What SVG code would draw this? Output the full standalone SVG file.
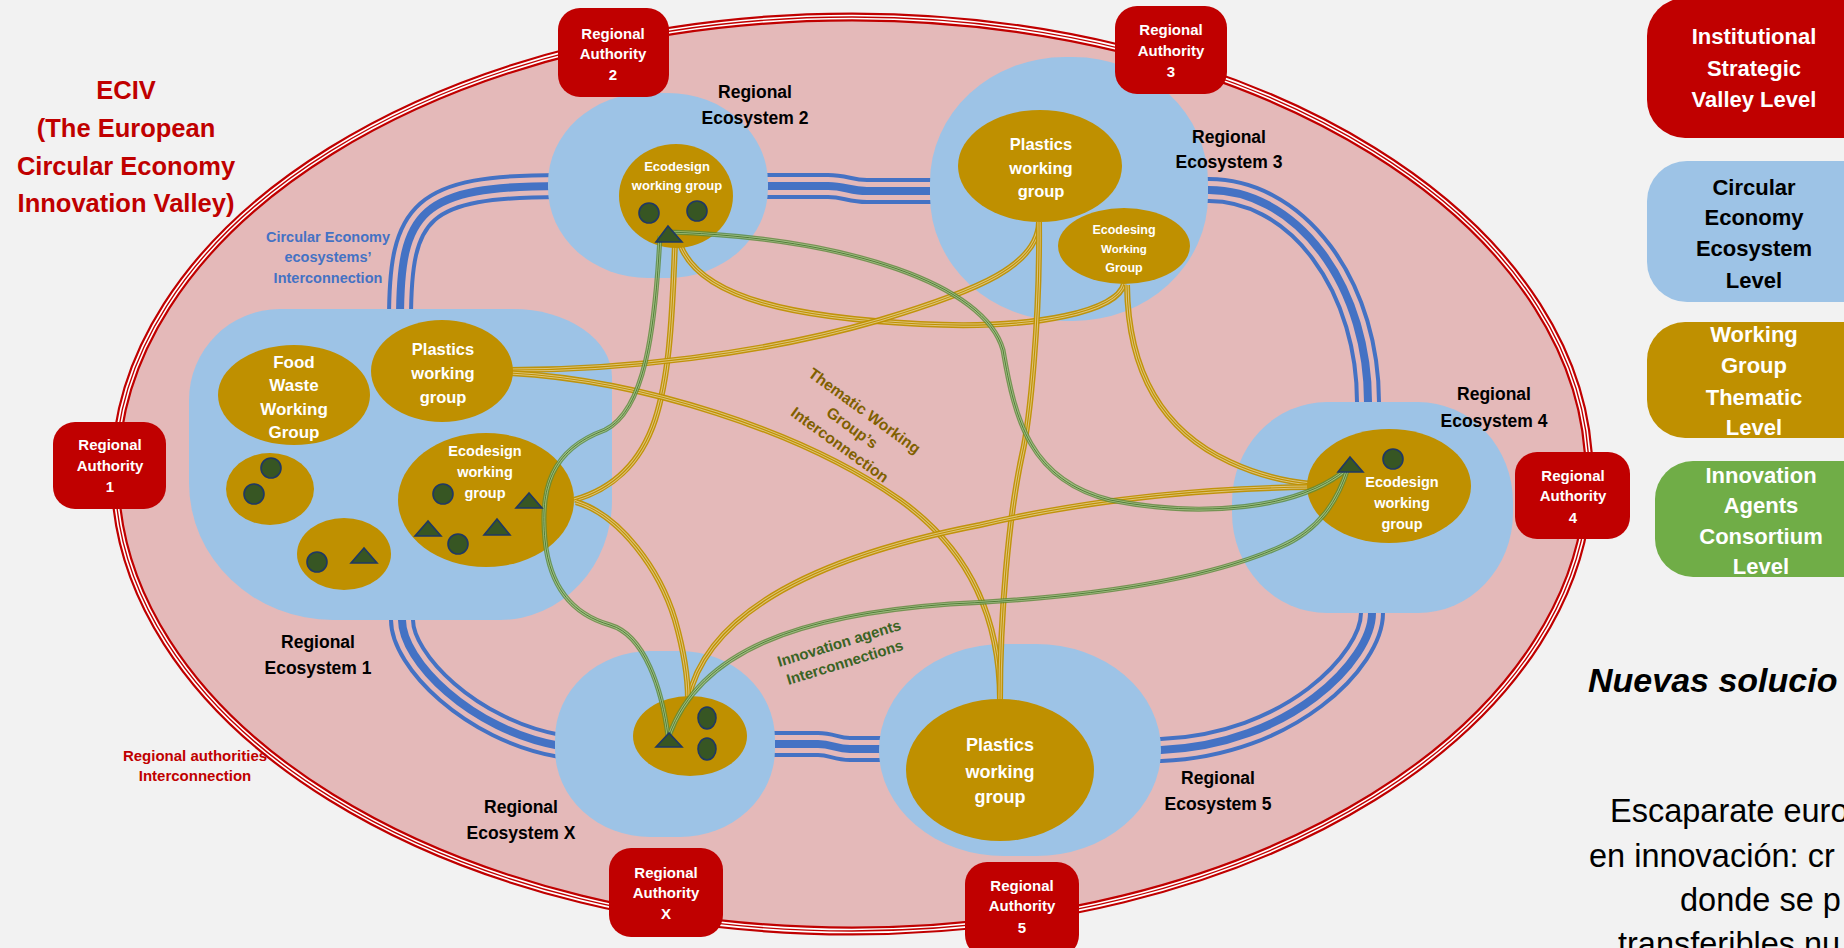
<svg xmlns="http://www.w3.org/2000/svg" xmlns:xlink="http://www.w3.org/1999/xlink" width="1844" height="948" viewBox="0 0 1844 948">
<style>
text{font-family:"Liberation Sans",Arial,sans-serif;font-weight:bold;text-anchor:middle}
.ra rect{fill:#C00000}
.ra text{fill:#fff;font-size:15px}
.eco{fill:#9DC3E6}
.lab{fill:#000;font-size:17.5px}
.wg{fill:#BF9000}
.wt{fill:#fff}
.ag{fill:#375623;stroke:#1F3864;stroke-width:1.6}
.pA{fill:none;stroke:#4472C4;stroke-width:26}
.pB{fill:none;stroke:#E4B9B9;stroke-width:18}
.pC{fill:none;stroke:#4472C4;stroke-width:8}
.tA{fill:none;stroke:#BF9000;stroke-width:6;opacity:.95}
.tB{fill:none;stroke:#fff;stroke-width:3.2;opacity:.45}
.tC{fill:none;stroke:#BF9000;stroke-width:1.1}
.gA{fill:none;stroke:#5A8A3A;stroke-width:5;opacity:.8}
.gB{fill:none;stroke:#B5D39A;stroke-width:2.6;opacity:.7}
.gC{fill:none;stroke:#4A7530;stroke-width:.9}
.leg{font-size:22px}
.es{font-family:"Liberation Sans",Arial,sans-serif;font-weight:normal;text-anchor:start;font-size:32.5px;fill:#000}
</style>
<defs>
<path id="p1" d="M 400,330 L 400,320 C 400,210 420,186 560,186"/>
<path id="p2" d="M 755,186 L 828,186 C 845,186 850,191 867,191 L 945,191"/>
<path id="p3" d="M 1195,190 L 1209,190 A 159 212 0 0 1 1368 402 L 1368 415"/>
<path id="p4" d="M 1372,600 L 1372,613 C 1372,660 1290,745 1161,750 L 1150,750"/>
<path id="p5" d="M 760,744 L 818,744 C 832,744 836,749 850,749 L 895,749"/>
<path id="p6" d="M 402,605 L 402,620 C 402,660 470,730 560,746 L 575,748"/>
<path id="g1" d="M 675,242 C 672,330 668,380 655,420 C 640,465 610,490 574,500"/>
<path id="g2" d="M 680,244 C 700,300 800,318 920,324 C 1040,330 1118,310 1124,284"/>
<path id="g3" d="M 510,370 C 620,370 760,355 880,320 C 980,290 1038,265 1039,222"/>
<path id="g4" d="M 510,373 C 640,380 800,430 900,500 C 970,550 1000,620 1000,700"/>
<path id="g5" d="M 1039,222 C 1040,320 1030,420 1022,455 C 1008,520 1000,620 1000,700"/>
<path id="g6" d="M 1127,285 C 1128,370 1160,430 1230,462 C 1260,476 1290,482 1312,484"/>
<path id="g8" d="M 688,700 C 705,620 800,560 980,525 C 1100,497 1220,488 1312,487"/>
<path id="g9" d="M 576,502 C 620,515 660,570 675,620 C 685,655 688,680 688,700"/>
<path id="n1" d="M 668,232 C 850,238 985,285 1003,350 C 1015,420 1030,480 1110,500 C 1200,518 1300,510 1348,468"/>
<path id="n2" d="M 660,236 C 655,330 645,410 605,430 C 550,450 540,490 545,540 C 550,590 575,615 610,625 C 645,635 662,690 668,736"/>
<path id="n3" d="M 669,736 C 700,650 800,615 950,604 C 1080,598 1200,582 1280,547 C 1320,530 1338,500 1348,468"/>
</defs>
<rect x="0" y="0" width="1844" height="948" fill="#F2F2F2"/>

<g id="valley">
<ellipse cx="852" cy="474" rx="737" ry="457" fill="#E4B9B9" stroke="#C00000" stroke-width="9"/>
<ellipse cx="852" cy="474" rx="737" ry="457" fill="none" stroke="#fff" stroke-width="4.6"/>
<ellipse cx="852" cy="474" rx="737" ry="457" fill="none" stroke="#C00000" stroke-width="1.4"/>
</g>

<g id="title" font-size="25.5">
<text x="126" y="99" style="fill:#C00000">ECIV</text>
<text x="126" y="137" style="fill:#C00000">(The European</text>
<text x="126" y="175" style="fill:#C00000">Circular Economy</text>
<text x="126" y="212" style="fill:#C00000">Innovation Valley)</text>
</g>

<g id="connectors-ecosystems">
<use xlink:href="#p1" class="pA"/><use xlink:href="#p1" class="pB"/><use xlink:href="#p1" class="pC"/>
<use xlink:href="#p2" class="pA"/><use xlink:href="#p2" class="pB"/><use xlink:href="#p2" class="pC"/>
<use xlink:href="#p3" class="pA"/><use xlink:href="#p3" class="pB"/><use xlink:href="#p3" class="pC"/>
<use xlink:href="#p4" class="pA"/><use xlink:href="#p4" class="pB"/><use xlink:href="#p4" class="pC"/>
<use xlink:href="#p5" class="pA"/><use xlink:href="#p5" class="pB"/><use xlink:href="#p5" class="pC"/>
<use xlink:href="#p6" class="pA"/><use xlink:href="#p6" class="pB"/><use xlink:href="#p6" class="pC"/>
</g>

<g id="eco1"><path class="eco" d="M 280,309 H 513 A 99 68 0 0 1 612 377 V 500 A 112 120 0 0 1 500 620 H 333 A 144 137 0 0 1 189 483 V 400 A 91 91 0 0 1 280 309 Z"/>
<text class="lab" x="318" y="648">Regional</text><text class="lab" x="318" y="674">Ecosystem 1</text></g>
<g id="eco2"><rect class="eco" x="548" y="93" width="220" height="185" rx="100" ry="90"/>
<text class="lab" x="755" y="98">Regional</text><text class="lab" x="755" y="124">Ecosystem 2</text></g>
<g id="eco3"><rect class="eco" x="930" y="57" width="278" height="264" rx="135" ry="125"/>
<text class="lab" x="1229" y="143">Regional</text><text class="lab" x="1229" y="168">Ecosystem 3</text></g>
<g id="eco4"><rect class="eco" x="1232" y="402" width="281" height="211" rx="95" ry="100"/>
<text class="lab" x="1494" y="400">Regional</text><text class="lab" x="1494" y="427">Ecosystem 4</text></g>
<g id="ecoX"><rect class="eco" x="555" y="651" width="220" height="186" rx="95" ry="88"/>
<text class="lab" x="521" y="813">Regional</text><text class="lab" x="521" y="839">Ecosystem X</text></g>
<g id="eco5"><rect class="eco" x="879" y="644" width="282" height="212" rx="125" ry="106"/>
<text class="lab" x="1218" y="784">Regional</text><text class="lab" x="1218" y="810">Ecosystem 5</text></g>

<g id="connectors-thematic">
<use xlink:href="#g1" class="tA"/><use xlink:href="#g1" class="tB"/><use xlink:href="#g1" class="tC"/>
<use xlink:href="#g2" class="tA"/><use xlink:href="#g2" class="tB"/><use xlink:href="#g2" class="tC"/>
<use xlink:href="#g3" class="tA"/><use xlink:href="#g3" class="tB"/><use xlink:href="#g3" class="tC"/>
<use xlink:href="#g4" class="tA"/><use xlink:href="#g4" class="tB"/><use xlink:href="#g4" class="tC"/>
<use xlink:href="#g5" class="tA"/><use xlink:href="#g5" class="tB"/><use xlink:href="#g5" class="tC"/>
<use xlink:href="#g6" class="tA"/><use xlink:href="#g6" class="tB"/><use xlink:href="#g6" class="tC"/>
<use xlink:href="#g8" class="tA"/><use xlink:href="#g8" class="tB"/><use xlink:href="#g8" class="tC"/>
<use xlink:href="#g9" class="tA"/><use xlink:href="#g9" class="tB"/><use xlink:href="#g9" class="tC"/>
</g>

<g id="wg-eco2-ecodesign"><ellipse class="wg" cx="676" cy="196" rx="57" ry="52"/>
<text class="wt" x="677" y="171" font-size="13">Ecodesign</text><text class="wt" x="677" y="190" font-size="13">working group</text></g>
<g id="wg-eco3-plastics"><ellipse class="wg" cx="1040" cy="166" rx="82" ry="56"/>
<text class="wt" x="1041" y="150" font-size="16.5">Plastics</text><text class="wt" x="1041" y="174" font-size="16.5">working</text><text class="wt" x="1041" y="197" font-size="16.5">group</text></g>
<g id="wg-eco3-ecodesing"><ellipse class="wg" cx="1124" cy="246" rx="66" ry="38"/>
<text class="wt" x="1124" y="234" font-size="12.5">Ecodesing</text><text class="wt" x="1124" y="253" font-size="11.5">Working</text><text class="wt" x="1124" y="272" font-size="12.5">Group</text></g>
<g id="wg-eco1-food"><ellipse class="wg" cx="294" cy="395" rx="76" ry="50"/>
<text class="wt" x="294" y="368" font-size="17">Food</text><text class="wt" x="294" y="391" font-size="17">Waste</text><text class="wt" x="294" y="415" font-size="17">Working</text><text class="wt" x="294" y="438" font-size="17">Group</text></g>
<g id="wg-eco1-plastics"><ellipse class="wg" cx="442" cy="371" rx="71" ry="51"/>
<text class="wt" x="443" y="355" font-size="16.5">Plastics</text><text class="wt" x="443" y="379" font-size="16.5">working</text><text class="wt" x="443" y="403" font-size="16.5">group</text></g>
<g id="wg-eco1-a"><ellipse class="wg" cx="270" cy="489" rx="44" ry="36"/></g>
<g id="wg-eco1-b"><ellipse class="wg" cx="344" cy="554" rx="47" ry="36"/></g>
<g id="wg-eco1-ecodesign"><ellipse class="wg" cx="486" cy="500" rx="88" ry="67"/>
<text class="wt" x="485" y="456" font-size="14.5">Ecodesign</text><text class="wt" x="485" y="477" font-size="14.5">working</text><text class="wt" x="485" y="498" font-size="14.5">group</text></g>
<g id="wg-eco4-ecodesign"><ellipse class="wg" cx="1389" cy="486" rx="82" ry="57"/>
<text class="wt" x="1402" y="487" font-size="14.5">Ecodesign</text><text class="wt" x="1402" y="508" font-size="14.5">working</text><text class="wt" x="1402" y="529" font-size="14.5">group</text></g>
<g id="wg-ecoX"><ellipse class="wg" cx="690" cy="736" rx="57" ry="40"/></g>
<g id="wg-eco5-plastics"><ellipse class="wg" cx="1000" cy="770" rx="94" ry="71"/>
<text class="wt" x="1000" y="751" font-size="18">Plastics</text><text class="wt" x="1000" y="778" font-size="18">working</text><text class="wt" x="1000" y="803" font-size="18">group</text></g>

<g id="connectors-agents">
<use xlink:href="#n1" class="gA"/><use xlink:href="#n1" class="gB"/><use xlink:href="#n1" class="gC"/>
<use xlink:href="#n2" class="gA"/><use xlink:href="#n2" class="gB"/><use xlink:href="#n2" class="gC"/>
<use xlink:href="#n3" class="gA"/><use xlink:href="#n3" class="gB"/><use xlink:href="#n3" class="gC"/>
</g>

<g id="agents">
<circle class="ag" cx="649" cy="213" r="10"/><circle class="ag" cx="697" cy="211" r="10"/>
<polygon class="ag" points="668,226 656,242 682,242"/>
<circle class="ag" cx="271" cy="468" r="10"/><circle class="ag" cx="254" cy="494" r="10"/>
<circle class="ag" cx="317" cy="562" r="10"/><polygon class="ag" points="364,548 351,563 377,563"/>
<circle class="ag" cx="443" cy="494" r="10"/><circle class="ag" cx="458" cy="544" r="10"/>
<polygon class="ag" points="428,521 415,536 441,536"/><polygon class="ag" points="497,519 484,535 510,535"/><polygon class="ag" points="529,493 516,508 542,508"/>
<polygon class="ag" points="1350,457 1338,472 1363,472"/><circle class="ag" cx="1393" cy="459" r="10"/>
<polygon class="ag" points="669,733 656,747 682,747"/>
<ellipse class="ag" cx="707" cy="718" rx="9" ry="11"/><ellipse class="ag" cx="707" cy="749" rx="9" ry="11"/>
</g>

<g id="ra1" class="ra"><rect x="53" y="422" width="113" height="87" rx="22"/><text x="110" y="450">Regional</text><text x="110" y="471">Authority</text><text x="110" y="492">1</text></g>
<g id="ra2" class="ra"><rect x="558" y="8" width="111" height="89" rx="22"/><text x="613" y="39">Regional</text><text x="613" y="59">Authority</text><text x="613" y="80">2</text></g>
<g id="ra3" class="ra"><rect x="1115" y="6" width="112" height="88" rx="22"/><text x="1171" y="35">Regional</text><text x="1171" y="56">Authority</text><text x="1171" y="77">3</text></g>
<g id="ra4" class="ra"><rect x="1515" y="452" width="115" height="87" rx="22"/><text x="1573" y="481">Regional</text><text x="1573" y="501">Authority</text><text x="1573" y="523">4</text></g>
<g id="raX" class="ra"><rect x="609" y="848" width="114" height="89" rx="22"/><text x="666" y="878">Regional</text><text x="666" y="898">Authority</text><text x="666" y="919">X</text></g>
<g id="ra5" class="ra"><rect x="965" y="862" width="114" height="95" rx="22"/><text x="1022" y="891">Regional</text><text x="1022" y="911">Authority</text><text x="1022" y="933">5</text></g>

<g id="labels">
<g font-size="14.5"><text x="328" y="242" style="fill:#4472C4">Circular Economy</text><text x="328" y="262" style="fill:#4472C4">ecosystems’</text><text x="328" y="283" style="fill:#4472C4">Interconnection</text></g>
<g font-size="15"><text x="195" y="761" style="fill:#C00000">Regional authorities</text><text x="195" y="781" style="fill:#C00000">Interconnection</text></g>
<g transform="translate(852,428) rotate(36)" font-size="15.5"><text x="0" y="-16" style="fill:#7F6000">Thematic Working</text><text x="0" y="5" style="fill:#7F6000">Group’s</text><text x="0" y="26" style="fill:#7F6000">Interconnection</text></g>
<g transform="translate(842,653) rotate(-17)" font-size="15"><text x="0" y="-5" style="fill:#3A6324">Innovation agents</text><text x="0" y="15" style="fill:#3A6324">Interconnections</text></g>
</g>

<g id="legend-institutional"><rect x="1647" y="-2" width="260" height="140" rx="38" fill="#C00000"/>
<text class="leg" x="1754" y="44" style="fill:#fff">Institutional</text><text class="leg" x="1754" y="76" style="fill:#fff">Strategic</text><text class="leg" x="1754" y="107" style="fill:#fff">Valley Level</text></g>
<g id="legend-ecosystem"><rect x="1647" y="161" width="250" height="141" rx="40" fill="#9DC3E6"/>
<text class="leg" x="1754" y="195">Circular</text><text class="leg" x="1754" y="225">Economy</text><text class="leg" x="1754" y="256">Ecosystem</text><text class="leg" x="1754" y="288">Level</text></g>
<g id="legend-thematic"><rect x="1647" y="322" width="250" height="116" rx="38" fill="#BF9000"/>
<text class="leg" x="1754" y="342" style="fill:#fff">Working</text><text class="leg" x="1754" y="373" style="fill:#fff">Group</text><text class="leg" x="1754" y="405" style="fill:#fff">Thematic</text><text class="leg" x="1754" y="435" style="fill:#fff">Level</text></g>
<g id="legend-agents"><rect x="1655" y="461" width="250" height="116" rx="38" fill="#70AD47"/>
<text class="leg" x="1761" y="483" style="fill:#fff">Innovation</text><text class="leg" x="1761" y="513" style="fill:#fff">Agents</text><text class="leg" x="1761" y="544" style="fill:#fff">Consortium</text><text class="leg" x="1761" y="574" style="fill:#fff">Level</text></g>

<g id="side-text">
<text x="1588" y="692" style="text-anchor:start;font-style:italic;font-size:34px;fill:#000">Nuevas solucio</text>
<text class="es" x="1610" y="822">Escaparate euro</text>
<text class="es" x="1589" y="867">en innovación: cr</text>
<text class="es" x="1680" y="911">donde se p</text>
<text class="es" x="1618" y="955">transferibles nu</text>
</g>
</svg>
